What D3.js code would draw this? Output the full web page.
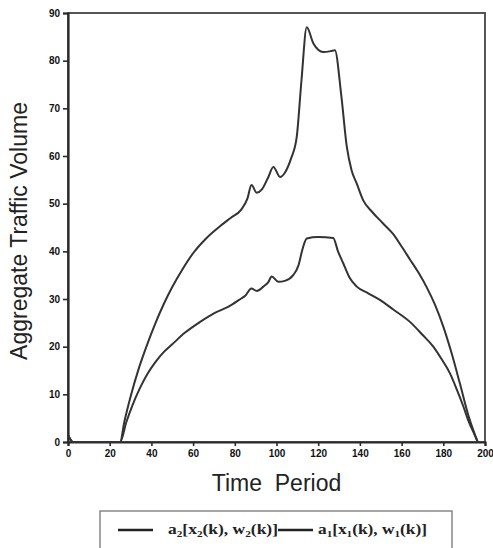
<!DOCTYPE html>
<html><head><meta charset="utf-8">
<script src="https://cdn.jsdelivr.net/npm/d3@7"></script>
<style>html,body{margin:0;padding:0;background:#fff;}svg{display:block;}</style>
</head><body>
<svg id="chart" width="493" height="548"></svg>
<script>
// Series A (upper curve): time period and aggregate traffic volume
const upperT = [0,2.5,25,27,30,34,38,42,46,50,55,60,66,73,78,83,86,88,90.5,93,96,98.5,101.7,104,107,109.7,112,114.5,117.7,120,122.4,126,128,131,133.7,136,138.5,141.6,146,151,156,160,164,168,172,176,180,184,188,192,196.5];
const upperV = [1.5,0,0,4.2,9.5,15.5,20.5,25,29,32.5,36.3,39.6,42.6,45.3,47,48.7,51,53.9,52.3,53,55.5,57.7,55.6,56.5,59.5,64,76,87,83.6,82.3,81.8,82,82.2,73,62,57,54.2,50.7,48.2,45.9,43.6,41,38.3,35.6,32.5,28.8,24.2,18.6,12.2,5.6,0];
// Series B (lower curve)
const lowerT = [0,2.5,25,28,31,34.5,38,42,46,50,56,63,70,77,82,85,88,90.5,93.7,96,97.7,100.9,104,108,110.5,112.5,114.5,120,127.2,129.5,132,135,138.5,144,149.6,156,164,170,175.2,179,183.2,186.5,189.5,192,194.5,196.5];
const lowerV = [1.5,0,0,4.2,7.8,11.3,14.2,16.8,18.9,20.5,22.9,25.1,27,28.4,29.8,30.7,32.2,31.7,32.6,33.5,34.7,33.6,33.8,35,37,40.5,42.7,43,42.8,40,37.5,34.5,32.6,31.2,29.8,27.8,25.2,22.5,20,17.5,14.4,11,7.6,4.5,2,0];
const xTicks = [0,20,40,60,80,100,120,140,160,180,200];
const yTicks = [0,10,20,30,40,50,60,70,80,90];
const xTitle = "Time  Period";
const yTitle = "Aggregate Traffic Volume";

const svg = d3.select("#chart");
const L = 68, R = 485, T = 13, B = 442;
const x = d3.scaleLinear().domain([0,200]).range([L,R]);
const y = d3.scaleLinear().domain([0,90]).range([B,T]);
const ink = "#2a2a2a";

// frame
svg.append("rect").attr("x",L).attr("y",T).attr("width",R-L).attr("height",B-T)
  .attr("fill","none").attr("stroke","#444").attr("stroke-width",1.8);

// axes
const xAxis = svg.append("g").attr("transform",`translate(0,${B})`)
  .call(d3.axisBottom(x).tickValues(xTicks).tickSize(4).tickPadding(4).tickFormat(d3.format("d")));
const yAxis = svg.append("g").attr("transform",`translate(${L},0)`)
  .call(d3.axisLeft(y).tickValues(yTicks).tickSize(5).tickPadding(3).tickFormat(d3.format("d")));
[xAxis,yAxis].forEach(g=>{
  g.select(".domain").attr("stroke",ink).attr("stroke-width",2.2);
  g.selectAll(".tick line").attr("stroke",ink).attr("stroke-width",1.6);
  g.selectAll("text").attr("fill","#111").attr("font-family","Liberation Sans, Arial, sans-serif")
    .attr("font-size",10).attr("font-weight","bold");
});

// lines
const line = d3.line().x(d=>x(d[0])).y(d=>y(d[1])).curve(d3.curveMonotoneX);
[[upperT,upperV],[lowerT,lowerV]].forEach(([ts,vs])=>{
  svg.append("path").datum(ts.map((t,i)=>[t,vs[i]]))
    .attr("d",line).attr("fill","none").attr("stroke","#333").attr("stroke-width",2)
    .attr("stroke-linejoin","round");
});

// titles
svg.append("text").attr("x",(L+R)/2).attr("y",491).attr("text-anchor","middle")
  .attr("font-family","Liberation Sans, Arial, sans-serif").attr("font-size",23)
  .attr("fill","#222").attr("xml:space","preserve").style("white-space","pre").text(xTitle);
svg.append("text").attr("transform",`translate(27,231) rotate(-90)`).attr("text-anchor","middle")
  .attr("font-family","Liberation Sans, Arial, sans-serif").attr("font-size",23)
  .attr("fill","#222").text(yTitle);

// legend
svg.append("rect").attr("x",100).attr("y",511).attr("width",352).attr("height",60)
  .attr("fill","none").attr("stroke","#888").attr("stroke-width",1.5);
const legendItems = [
  {x1:118,x2:153,tx:168,w:110,sub:"2"},
  {x1:278,x2:313,tx:318,w:109,sub:"1"}
];
legendItems.forEach(it=>{
  svg.append("line").attr("x1",it.x1).attr("x2",it.x2).attr("y1",530).attr("y2",530)
    .attr("stroke","#222").attr("stroke-width",2.4);
  const t = svg.append("text").attr("x",it.tx).attr("y",534)
    .attr("font-family","Liberation Serif, Times New Roman, serif").attr("font-size",14)
    .attr("font-weight","bold").attr("fill","#222")
    .attr("textLength",it.w).attr("lengthAdjust","spacingAndGlyphs");
  const parts = [["a",0],[it.sub,1],["[x",0],[it.sub,1],["(k), w",0],[it.sub,1],["(k)]",0]];
  parts.forEach(([s,isSub],i)=>{
    const prevSub = i>0 ? parts[i-1][1] : 0;
    const sp = t.append("tspan").text(s);
    if(isSub) sp.attr("font-size",9);
    sp.attr("dy", isSub && !prevSub ? 3 : (!isSub && prevSub ? -3 : 0));
  });
});
</script>
</body></html>
